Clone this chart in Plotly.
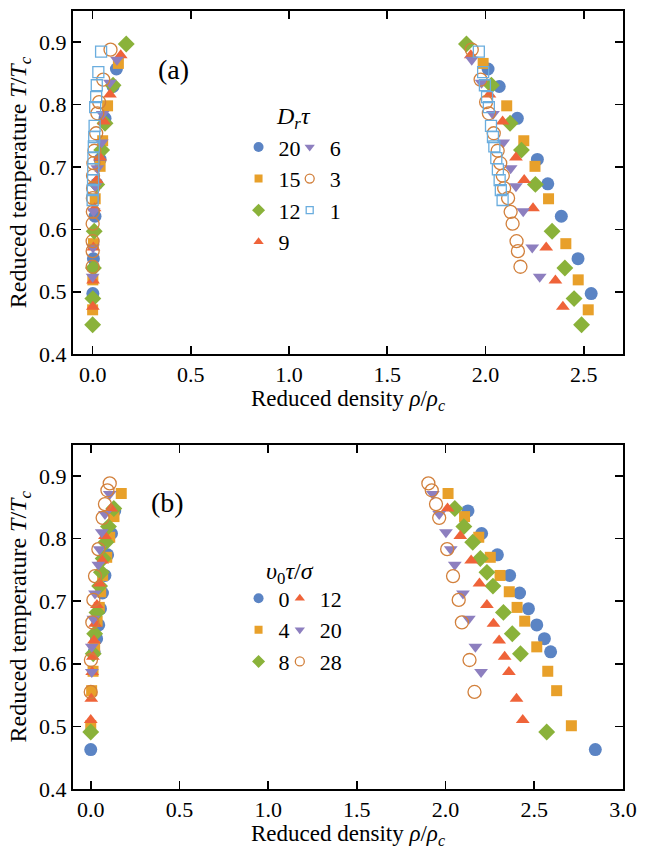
import plotly.graph_objects as go

# ---------------- Panel (a): rotational diffusion D_r tau ----------------
a_labels = ["20", "15", "12", "9", "6", "3", "1"]

Ta_20 = [0.857, 0.829, 0.778, 0.712, 0.673, 0.621, 0.553, 0.497]
gas_a_20 = [0.121, 0.104, 0.063, 0.038, 0.021, 0.012, 0.004, 0.001]
liq_a_20 = [2.013, 2.070, 2.162, 2.264, 2.317, 2.386, 2.471, 2.538]

Ta_15 = [0.866, 0.798, 0.742, 0.701, 0.649, 0.577, 0.519, 0.471]
gas_a_15 = [0.131, 0.076, 0.051, 0.038, 0.013, 0.004, 0.001, 0.0]
liq_a_15 = [1.988, 2.108, 2.195, 2.252, 2.321, 2.409, 2.472, 2.523]

Ta_12 = [0.897, 0.831, 0.770, 0.727, 0.672, 0.597, 0.538, 0.489, 0.447]
gas_a_12 = [0.171, 0.104, 0.063, 0.046, 0.021, 0.008, 0.004, 0.001, 0.0]
liq_a_12 = [1.903, 2.030, 2.125, 2.183, 2.254, 2.339, 2.404, 2.451, 2.489]

Ta_9 = [0.879, 0.816, 0.773, 0.715, 0.679, 0.634, 0.571, 0.518, 0.476]
gas_a_9 = [0.143, 0.088, 0.058, 0.038, 0.021, 0.010, 0.004, 0.002, 0.001]
liq_a_9 = [1.925, 2.020, 2.087, 2.155, 2.197, 2.242, 2.309, 2.356, 2.394]

Ta_6 = [0.872, 0.835, 0.785, 0.739, 0.698, 0.669, 0.629, 0.571, 0.524]
gas_a_6 = [0.124, 0.088, 0.051, 0.046, 0.024, 0.013, 0.005, 0.002, 0.0]
liq_a_6 = [1.930, 1.980, 2.038, 2.090, 2.128, 2.155, 2.192, 2.238, 2.276]

Ta_3 = [0.888, 0.840, 0.804, 0.786, 0.754, 0.726, 0.706, 0.686, 0.666,
        0.650, 0.628, 0.609, 0.581, 0.565, 0.540]
gas_a_3 = [0.091, 0.054, 0.033, 0.024, 0.018, 0.009, 0.004, 0.002, 0.002,
           0.001, 0.001, 0.0, 0.0, 0.0, 0.0]
liq_a_3 = [1.930, 1.975, 2.003, 2.017, 2.042, 2.062, 2.075, 2.088, 2.095,
           2.115, 2.128, 2.138, 2.158, 2.165, 2.178]

Ta_1 = [0.885, 0.852, 0.831, 0.812, 0.796, 0.766, 0.748, 0.733, 0.714,
        0.696, 0.679, 0.663, 0.647]
gas_a_1 = [0.043, 0.029, 0.021, 0.018, 0.013, 0.010, 0.008, 0.006, 0.004,
           0.003, 0.002, 0.001, 0.0]
liq_a_1 = [1.966, 1.988, 1.997, 2.008, 2.017, 2.028, 2.038, 2.045, 2.055,
           2.063, 2.072, 2.078, 2.087]

# ---------------- Panel (b): self-propulsion v0 tau / sigma ----------------
b_labels = ["0", "4", "8", "12", "20", "28"]

Tb_0 = [0.844, 0.808, 0.774, 0.741, 0.713, 0.688, 0.662, 0.640, 0.619, 0.463]
gas_b_0 = [0.135, 0.117, 0.095, 0.080, 0.066, 0.055, 0.045, 0.033, 0.019, 0.0]
liq_b_0 = [2.126, 2.203, 2.292, 2.361, 2.417, 2.467, 2.514, 2.557, 2.592, 2.844]

Tb_4 = [0.872, 0.835, 0.802, 0.770, 0.741, 0.715, 0.690, 0.668, 0.627, 0.588, 0.557, 0.501]
gas_b_4 = [0.172, 0.131, 0.107, 0.090, 0.067, 0.056, 0.048, 0.036, 0.022, 0.013, 0.005, 0.0]
liq_b_4 = [2.014, 2.107, 2.187, 2.252, 2.307, 2.359, 2.403, 2.446, 2.514, 2.576, 2.626, 2.709]

Tb_8 = [0.848, 0.819, 0.794, 0.768, 0.746, 0.724, 0.682, 0.648, 0.616, 0.491]
gas_b_8 = [0.130, 0.100, 0.085, 0.070, 0.060, 0.050, 0.035, 0.022, 0.014, 0.0]
liq_b_8 = [2.052, 2.103, 2.153, 2.196, 2.233, 2.267, 2.326, 2.376, 2.422, 2.570]

Tb_12 = [0.848, 0.804, 0.765, 0.728, 0.694, 0.664, 0.637, 0.611, 0.587, 0.544, 0.510]
gas_b_12 = [0.115, 0.080, 0.065, 0.050, 0.035, 0.025, 0.018, 0.012, 0.008, 0.003, 0.0]
liq_b_12 = [2.011, 2.083, 2.144, 2.191, 2.233, 2.270, 2.302, 2.333, 2.357, 2.400, 2.435]

Tb_20 = [0.871, 0.839, 0.810, 0.783, 0.758, 0.712, 0.672, 0.627, 0.587]
gas_b_20 = [0.107, 0.080, 0.062, 0.050, 0.043, 0.024, 0.015, 0.006, 0.006]
liq_b_20 = [1.928, 1.964, 2.002, 2.029, 2.052, 2.098, 2.131, 2.168, 2.200]

Tb_28 = [0.888, 0.877, 0.855, 0.833, 0.783, 0.740, 0.702, 0.666, 0.606, 0.555]
gas_b_28 = [0.107, 0.094, 0.080, 0.067, 0.043, 0.024, 0.015, 0.009, 0.001, 0.0]
liq_b_28 = [1.903, 1.922, 1.946, 1.964, 2.009, 2.042, 2.074, 2.092, 2.135, 2.163]

x_ticks_a = [0.0, 0.5, 1.0, 1.5, 2.0, 2.5]
x_ticks_b = [0.0, 0.5, 1.0, 1.5, 2.0, 2.5, 3.0]
y_ticks = [0.4, 0.5, 0.6, 0.7, 0.8, 0.9]

x_title = "Reduced density <i>ρ</i>/<i>ρ<sub>c</sub></i>"
y_title = "Reduced temperature <i>T</i>/<i>T<sub>c</sub></i>"

# ---------------- styles ----------------
BLUE = "#5B84C4"
ORANGE = "#E8A02A"
GREEN = "#8AB23A"
RED = "#EF6339"
PURPLE = "#8D7FBF"
OCIRC = "#D2803C"
OSQ = "#6AADDE"

FONT = "Liberation Serif, DejaVu Serif, serif"

def style(sym, color, size, open_=False):
    if open_:
        return dict(symbol=sym, size=size, color=color,
                    line=dict(color=color, width=1.3))
    return dict(symbol=sym, size=size, color=color, line=dict(width=0))

a_series = [
    (Ta_20, gas_a_20, liq_a_20, "circle", BLUE, 13, 10, False),
    (Ta_15, gas_a_15, liq_a_15, "square", ORANGE, 11, 8, False),
    (Ta_12, gas_a_12, liq_a_12, "diamond", GREEN, 13, 10, False),
    (Ta_9, gas_a_9, liq_a_9, "triangle-up", RED, 12, 9, False),
    (Ta_6, gas_a_6, liq_a_6, "triangle-down", PURPLE, 12, 9, False),
    (Ta_3, gas_a_3, liq_a_3, "circle-open", OCIRC, 13, 9, True),
    (Ta_1, gas_a_1, liq_a_1, "square-open", OSQ, 11, 7, True),
]
b_series = [
    (Tb_0, gas_b_0, liq_b_0, "circle", BLUE, 13, 10, False),
    (Tb_4, gas_b_4, liq_b_4, "square", ORANGE, 11, 8, False),
    (Tb_8, gas_b_8, liq_b_8, "diamond", GREEN, 13, 10, False),
    (Tb_12, gas_b_12, liq_b_12, "triangle-up", RED, 12, 9, False),
    (Tb_20, gas_b_20, liq_b_20, "triangle-down", PURPLE, 12, 9, False),
    (Tb_28, gas_b_28, liq_b_28, "circle-open", OCIRC, 13, 9, True),
]

fig = go.Figure()

def add_panel(series, labels, xa, ya, legends):
    for i, (T, gas, liq, sym, col, sz, lsz, op) in enumerate(series):
        fig.add_trace(go.Scatter(
            x=gas + liq, y=T + T, mode="markers", xaxis=xa, yaxis=ya,
            marker=style(sym, col, sz, op), showlegend=False, hoverinfo="skip"))
    for i, (T, gas, liq, sym, col, sz, lsz, op) in enumerate(series):
        fig.add_trace(go.Scatter(
            x=[None], y=[None], mode="markers", xaxis=xa, yaxis=ya,
            marker=style(sym, col, lsz, op), name=labels[i],
            legend=legends[i], legendgroup=f"{xa}{i}", showlegend=True))

add_panel(a_series, a_labels, "x", "y",
          ["legend", "legend", "legend", "legend", "legend2", "legend2", "legend2"])
add_panel(b_series, b_labels, "x2", "y2",
          ["legend3", "legend3", "legend3", "legend4", "legend4", "legend4"])

axis_common = dict(
    showgrid=False, zeroline=False, showline=True, linecolor="black",
    linewidth=2, mirror="ticks", ticks="inside", ticklen=8, tickwidth=1.6,
    tickcolor="black", tickfont=dict(family=FONT, size=22, color="black"),
    ticklabeloverflow="allow",
)

title_font = dict(family=FONT, size=23, color="black")
ytitle_font = dict(family=FONT, size=24, color="black")

fig.update_layout(
    width=646, height=848,
    margin=dict(l=73, r=15, t=9, b=59),
    paper_bgcolor="white", plot_bgcolor="white",
    font=dict(family=FONT, color="black"),
    xaxis=dict(domain=[0, 1], range=[-0.1, 2.7], tickvals=x_ticks_a,
               tickformat=".1f", anchor="y", **axis_common),
    yaxis=dict(domain=[0.559, 1], range=[0.4, 0.95], tickvals=y_ticks,
               tickformat=".1f", anchor="x",
               title=dict(text=y_title, font=ytitle_font, standoff=6),
               **axis_common),
    xaxis2=dict(domain=[0, 1], range=[-0.1, 3.0], tickvals=x_ticks_b,
                tickformat=".1f", anchor="y2", **axis_common),
    yaxis2=dict(domain=[0, 0.4427], range=[0.4, 0.95], tickvals=y_ticks,
                tickformat=".1f", anchor="x2",
                title=dict(text=y_title, font=ytitle_font, standoff=6),
                **axis_common),
)

leg_common = dict(bgcolor="rgba(0,0,0,0)", borderwidth=0,
                  font=dict(family=FONT, size=22, color="black"),
                  xanchor="left", yanchor="top", traceorder="grouped",
                  tracegroupgap=0, itemclick=False, itemdoubleclick=False)

fig.update_layout(
    legend=dict(x=0.301, y=0.852, **leg_common),
    legend2=dict(x=0.394, y=0.852, **leg_common),
    legend3=dict(x=0.301, y=0.272, **leg_common),
    legend4=dict(x=0.376, y=0.272, **leg_common),
)

# x-axis titles
fig.add_annotation(x=0.5, y=0.5004, xref="paper", yref="paper",
                   text=x_title, showarrow=False, yanchor="middle",
                   font=title_font)
fig.add_annotation(x=0.5, y=-0.0585, xref="paper", yref="paper",
                   text=x_title, showarrow=False, yanchor="middle",
                   font=title_font)

fig.add_annotation(x=1.025, y=0.778, xref="x", yref="y",
                   text="<i>D<sub>r</sub>τ</i>", showarrow=False,
                   font=dict(family=FONT, size=24, color="black"))
fig.add_annotation(x=1.125, y=0.745, xref="x2", yref="y2",
                   text="<i>υ</i><sub>0</sub><i>τ</i>/<i>σ</i>", showarrow=False,
                   font=dict(family=FONT, size=24, color="black"))
fig.add_annotation(x=0.41, y=0.857, xref="x", yref="y",
                   text="(a)", showarrow=False,
                   font=dict(family=FONT, size=28, color="black"))
fig.add_annotation(x=0.43, y=0.857, xref="x2", yref="y2",
                   text="(b)", showarrow=False,
                   font=dict(family=FONT, size=28, color="black"))

# remove the default 8px page margin so the figure fills the window exactly
fig.write_html("out.html",
               config={"displayModeBar": False, "staticPlot": True},
               post_script="document.body.style.margin='0';"
                           "document.body.style.overflow='hidden';")
